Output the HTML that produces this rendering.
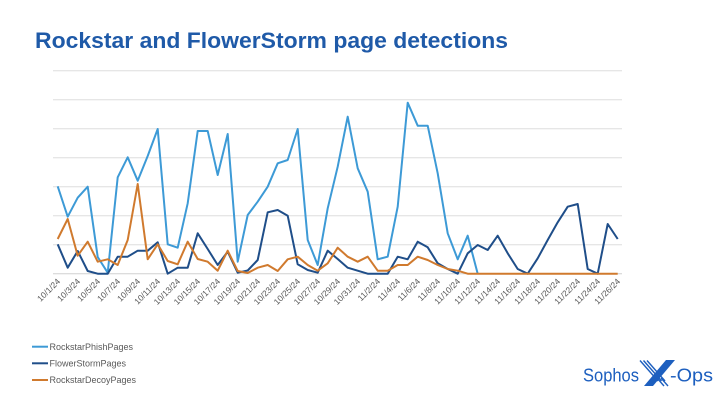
<!DOCTYPE html>
<html><head><meta charset="utf-8"><style>
html,body{margin:0;padding:0;background:#fff;}
svg{display:block;font-family:"Liberation Sans",sans-serif;}
</style></head><body>
<svg width="728" height="410" viewBox="0 0 728 410" xmlns="http://www.w3.org/2000/svg">
<rect width="728" height="410" fill="#fff"/>
<text x="35" y="48" font-size="22" font-weight="bold" fill="#1f5aa8" textLength="473" lengthAdjust="spacingAndGlyphs">Rockstar and FlowerStorm page detections</text>
<g stroke="#dedede" stroke-width="1">
<line x1="53" y1="70.7" x2="622" y2="70.7"/>
<line x1="53" y1="99.7" x2="622" y2="99.7"/>
<line x1="53" y1="128.7" x2="622" y2="128.7"/>
<line x1="53" y1="157.7" x2="622" y2="157.7"/>
<line x1="53" y1="186.7" x2="622" y2="186.7"/>
<line x1="53" y1="215.7" x2="622" y2="215.7"/>
<line x1="53" y1="244.7" x2="622" y2="244.7"/>
<line x1="53" y1="273.7" x2="622" y2="273.7" stroke="#d0d0d0"/>
</g>
<g fill="none" stroke-width="2" stroke-linejoin="round">
<polyline stroke="#3d9ad6" points="57.7,186.3 67.7,216.7 77.7,197.7 87.7,186.7 97.7,257 107.7,272.7 117.7,177.3 127.7,157.3 137.7,180.7 147.7,156 157.7,129 167.7,244.3 177.7,247.7 187.7,203.3 197.7,131 207.7,131 217.7,175 227.7,134 237.7,261.7 247.7,215 257.7,201.7 267.7,186.7 277.7,163.3 287.7,160 297.7,129 307.7,240 317.7,265 327.7,208.3 337.7,166.7 347.7,116.7 357.7,168.3 367.7,191.7 377.7,259.3 387.7,256.7 397.7,206.7 407.7,102.7 417.7,125.7 427.7,125.7 437.7,173.3 447.7,233.3 457.7,259.3 467.7,235.7 477.7,273.7"/>
<polyline stroke="#1f4e89" points="57.7,244.3 67.7,267.7 77.7,251 87.7,271 97.7,273.7 107.7,273.7 117.7,256.7 127.7,256.7 137.7,250.7 147.7,250.7 157.7,242.3 167.7,273.7 177.7,267.7 187.7,267.7 197.7,233.3 207.7,249 217.7,265 227.7,251.7 237.7,272.7 247.7,270.5 257.7,260 267.7,212.3 277.7,210 287.7,215.7 297.7,264.3 307.7,270 317.7,272.7 327.7,250.7 337.7,259 347.7,267.7 357.7,270.7 367.7,273.7 377.7,273.7 387.7,273.7 397.7,256.7 407.7,259.3 417.7,241.7 427.7,247.3 437.7,263.3 447.7,269 457.7,273.7 467.7,253.3 477.7,245 487.7,250 497.7,235.7 507.7,253.3 517.7,269 527.7,273.7 537.7,258.3 547.7,240 557.7,222.3 567.7,206.7 577.7,204 587.7,269 597.7,273.7 607.7,224 617.7,239"/>
<polyline stroke="#d07a2e" points="57.7,239 67.7,219 77.7,255.7 87.7,241.7 97.7,261.7 107.7,259.3 117.7,265 127.7,240 137.7,184 147.7,259.3 157.7,244.3 167.7,261 177.7,264.3 187.7,241.7 197.7,259 207.7,261.7 217.7,270.7 227.7,250.7 237.7,271 247.7,273 257.7,267.7 267.7,265 277.7,271 287.7,259.3 297.7,256.7 307.7,265 317.7,270.7 327.7,263.3 337.7,247.7 347.7,256.7 357.7,261.7 367.7,256.7 377.7,270.7 387.7,270.7 397.7,265 407.7,265 417.7,256.7 427.7,260 437.7,265 447.7,269 457.7,270.7 467.7,273.7 617.7,273.7"/>
</g>
<g font-size="8.5" fill="#595959" text-anchor="end">
<text transform="translate(60.7,282) rotate(-45)">10/1/24</text>
<text transform="translate(80.7,282) rotate(-45)">10/3/24</text>
<text transform="translate(100.7,282) rotate(-45)">10/5/24</text>
<text transform="translate(120.7,282) rotate(-45)">10/7/24</text>
<text transform="translate(140.7,282) rotate(-45)">10/9/24</text>
<text transform="translate(160.7,282) rotate(-45)">10/11/24</text>
<text transform="translate(180.7,282) rotate(-45)">10/13/24</text>
<text transform="translate(200.7,282) rotate(-45)">10/15/24</text>
<text transform="translate(220.7,282) rotate(-45)">10/17/24</text>
<text transform="translate(240.7,282) rotate(-45)">10/19/24</text>
<text transform="translate(260.7,282) rotate(-45)">10/21/24</text>
<text transform="translate(280.7,282) rotate(-45)">10/23/24</text>
<text transform="translate(300.7,282) rotate(-45)">10/25/24</text>
<text transform="translate(320.7,282) rotate(-45)">10/27/24</text>
<text transform="translate(340.7,282) rotate(-45)">10/29/24</text>
<text transform="translate(360.7,282) rotate(-45)">10/31/24</text>
<text transform="translate(380.7,282) rotate(-45)">11/2/24</text>
<text transform="translate(400.7,282) rotate(-45)">11/4/24</text>
<text transform="translate(420.7,282) rotate(-45)">11/6/24</text>
<text transform="translate(440.7,282) rotate(-45)">11/8/24</text>
<text transform="translate(460.7,282) rotate(-45)">11/10/24</text>
<text transform="translate(480.7,282) rotate(-45)">11/12/24</text>
<text transform="translate(500.7,282) rotate(-45)">11/14/24</text>
<text transform="translate(520.7,282) rotate(-45)">11/16/24</text>
<text transform="translate(540.7,282) rotate(-45)">11/18/24</text>
<text transform="translate(560.7,282) rotate(-45)">11/20/24</text>
<text transform="translate(580.7,282) rotate(-45)">11/22/24</text>
<text transform="translate(600.7,282) rotate(-45)">11/24/24</text>
<text transform="translate(620.7,282) rotate(-45)">11/26/24</text>
</g>
<g stroke-width="2">
<line x1="32" y1="346.7" x2="48" y2="346.7" stroke="#3d9ad6"/>
<line x1="32" y1="363.3" x2="48" y2="363.3" stroke="#1f4e89"/>
<line x1="32" y1="380" x2="48" y2="380" stroke="#d07a2e"/>
</g>
<g font-size="9" fill="#595959">
<text x="49.5" y="349.8">RockstarPhishPages</text>
<text x="49.5" y="366.4">FlowerStormPages</text>
<text x="49.5" y="383.1">RockstarDecoyPages</text>
</g>
<g fill="#1d5fbf">
<text x="583" y="381.3" font-size="18" textLength="56" lengthAdjust="spacingAndGlyphs">Sophos</text>
<polygon points="666,360 675,360 653,386 644,386"/>
<g stroke="#1d5fbf" stroke-width="1.4">
<line x1="640" y1="360.5" x2="658" y2="381"/>
<line x1="643.5" y1="360.5" x2="661.5" y2="381"/>
<line x1="647" y1="360.5" x2="665" y2="381"/>
<line x1="657" y1="378" x2="664" y2="386"/>
<line x1="661" y1="378" x2="668" y2="386"/>
</g>
<text x="670" y="381.3" font-size="18" textLength="43" lengthAdjust="spacingAndGlyphs">-Ops</text>
</g>
</svg>
</body></html>
